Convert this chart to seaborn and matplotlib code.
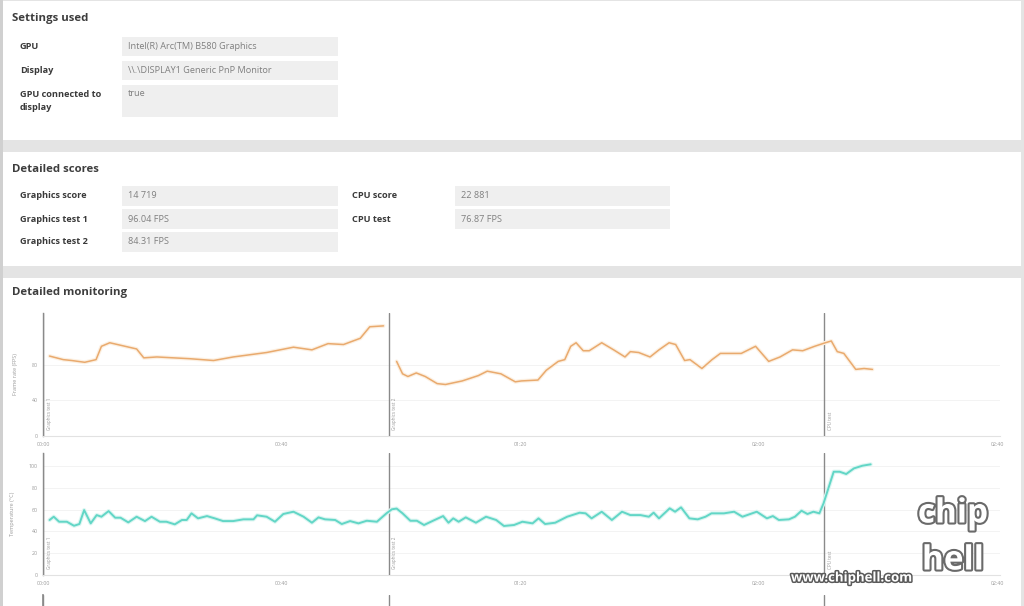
import numpy as np
import pandas as pd
import matplotlib
matplotlib.use("Agg")
import matplotlib.pyplot as plt
import matplotlib.patheffects as pe
from matplotlib.patches import Rectangle
import seaborn as sns

# ---------------- data ----------------
settings_labels = ["GPU", "Display", "GPU connected to\ndisplay"]
settings_values = ["Intel(R) Arc(TM) B580 Graphics", "\\\\.\\DISPLAY1 Generic PnP Monitor", "true"]

scores_left_labels = ["Graphics score", "Graphics test 1", "Graphics test 2"]
scores_left_values = ["14 719", "96.04 FPS", "84.31 FPS"]
scores_right_labels = ["CPU score", "CPU test"]
scores_right_values = ["22 881", "76.87 FPS"]

tick_seconds = [0, 40, 80, 120, 160]
tick_labels = ["00:00", "00:40", "01:20", "02:00", "02:40"]
marker_times = [0.0, 58.0, 131.0]
marker_labels = ["Graphics test 1", "Graphics test 2", "CPU test"]

fps_ticks = [0, 40, 80]
temp_ticks = [0, 20, 40, 60, 80, 100]

# frame rate, graphics test 1
fps_gt1_t = [1.1, 3.4, 4.8, 7.0, 8.9, 9.8, 11.2, 15.7, 16.9, 19.1, 24.7, 28.6, 31.9,
             37.5, 42.0, 45.1, 47.8, 50.4, 53.2, 54.8, 57.1]
fps_gt1 = [90, 86, 85, 83, 86, 101, 105, 98, 88, 89, 87, 85, 89,
           94, 100, 97, 104, 103, 110, 123, 124]
# frame rate, graphics test 2 followed by CPU test
fps_gt2_t = [59.3, 60.3, 61.2, 62.6, 64.1, 66.1, 67.5, 70.3, 73.0, 74.5, 76.8, 79.2, 80.2,
             83.0, 84.4, 86.4, 87.5, 88.5, 89.4, 90.6, 91.6, 93.7, 95.7, 97.6, 98.5, 99.9,
             101.8, 103.3, 105.0, 106.1, 107.6, 108.5, 110.5, 112.2, 113.6, 117.1, 119.5,
             121.7, 123.6, 125.7, 127.4, 129.4]
fps_gt2 = [84, 70, 67, 71, 67, 59, 58, 62, 68, 73, 70, 61, 62,
           63, 74, 84, 86, 101, 105, 96, 96, 105, 97, 89, 95, 94,
           89, 97, 105, 103, 85, 86, 76, 86, 93, 93, 101,
           84, 89, 97, 96, 101]
fps_cpu_t = [131.2, 132.2, 133.2, 134.3, 136.3, 137.7, 139.1]
fps_cpu = [105, 107, 95, 93, 75, 76, 75]

# temperature (continuous)
temp_t = [1.1, 1.8, 2.7, 4.0, 5.2, 6.1, 6.9, 8.0, 9.0, 9.8, 11.0, 12.1, 13.0, 14.3,
          15.7, 17.1, 18.2, 19.6, 20.7, 22.1, 23.3, 24.1, 24.9, 26.0, 27.5, 28.8, 30.2,
          31.9, 33.6, 35.3, 35.9, 37.5, 38.9, 40.3, 42.0, 43.7, 45.1, 46.2, 47.3, 49.0,
          50.1, 51.5, 52.9, 54.3, 56.0, 57.6, 58.5, 59.3, 60.3, 61.6, 62.7, 63.9, 65.4,
          67.1, 68.0, 68.8, 69.7, 70.9, 72.6, 74.3, 76.0, 77.3, 79.0, 80.4, 82.1, 83.1,
          84.2, 85.9, 87.9, 90.0, 91.0, 92.0, 93.7, 95.4, 97.1, 98.5, 100.2, 101.6, 102.4,
          103.3, 105.1, 106.0, 107.0, 108.4, 109.8, 111.1, 112.1, 114.2, 115.9, 117.3,
          119.7, 121.4, 122.4, 123.4, 125.1, 126.1, 127.2, 128.2, 129.2, 130.2, 130.9,
          132.6, 133.6, 134.7, 136.0, 137.4, 138.8]
temp_c = [50.5, 53.5, 48.9, 48.9, 45.2, 46.8, 59.6, 47.4, 55.0, 53.5, 58.7, 52.6, 52.6, 48.3,
          53.5, 49.5, 53.5, 48.9, 48.9, 46.5, 50.5, 50.5, 56.6, 52.0, 54.1, 52.0, 49.5,
          49.5, 51.1, 51.1, 54.8, 53.5, 48.9, 56.0, 58.1, 53.5, 48.0, 52.9, 51.1, 50.5,
          46.8, 49.5, 47.4, 49.8, 48.9, 56.6, 60.3, 61.0, 56.6, 49.8, 49.8, 45.9, 49.8,
          54.1, 48.0, 52.0, 48.9, 52.9, 48.0, 53.5, 50.5, 45.0, 45.9, 48.9, 47.4, 52.0,
          46.8, 48.0, 53.5, 57.2, 56.6, 52.0, 58.1, 50.5, 58.1, 55.0, 55.0, 53.5, 57.2,
          52.0, 61.2, 58.1, 62.1, 52.0, 51.1, 53.5, 56.6, 56.6, 58.1, 53.5,
          58.1, 52.0, 54.1, 50.5, 51.1, 53.5, 59.0, 56.0, 58.1, 56.6, 65.8,
          94.8, 94.8, 92.7, 97.9, 100.3, 101.6]

fps_df = pd.concat([
    pd.DataFrame({"t": fps_gt1_t, "v": fps_gt1, "seg": "a"}),
    pd.DataFrame({"t": fps_gt2_t + fps_cpu_t, "v": fps_gt2 + fps_cpu, "seg": "b"}),
], ignore_index=True)
temp_df = pd.DataFrame({"t": temp_t, "v": temp_c, "seg": "a"})

# ---------------- style ----------------
sns.set_theme(style="white")
plt.rcParams["font.family"] = ["Open Sans", "DejaVu Sans"]

W, H = 1024, 606
fig = plt.figure(figsize=(W / 100, H / 100), dpi=100, facecolor="#e4e4e4")

bg = fig.add_axes([0, 0, 1, 1], zorder=0)
bg.set_xlim(0, W)
bg.set_ylim(H, 0)
bg.axis("off")

# cards
for (y0, y1) in [(1, 140), (152, 266), (278, 606)]:
    bg.add_patch(Rectangle((3, y0), 1018, y1 - y0, facecolor="white", edgecolor="none"))
bg.add_patch(Rectangle((0, 0), 2.5, H, facecolor="#d0d0d0", edgecolor="none"))

title_kw = dict(fontsize=8.2, fontweight="bold", color="#3d3d3d", va="center", ha="left")
label_kw = dict(fontsize=6.6, fontweight="bold", color="#3a3a3a", va="center", ha="left")
value_kw = dict(fontsize=6.6, color="#7f7f7f", va="center", ha="left")
box_col = "#efefef"

bg.text(12, 18, "Settings used", **title_kw)
set_rows = [(37, 56), (61, 80), (85, 117)]
for lab, val, (y0, y1) in zip(settings_labels, settings_values, set_rows):
    bg.add_patch(Rectangle((122, y0), 216, y1 - y0, facecolor=box_col, edgecolor="none"))
    if "\n" in lab:
        bg.text(20, (y0 + y1) / 2, lab, linespacing=1.55, **label_kw)
        bg.text(128, y0 + 8, val, **value_kw)
    else:
        bg.text(20, (y0 + y1) / 2, lab, **label_kw)
        bg.text(128, (y0 + y1) / 2, val, **value_kw)

bg.text(12, 170, "Detailed scores", **title_kw)
score_rows = [(186, 206), (209, 229), (232, 252)]
for lab, val, (y0, y1) in zip(scores_left_labels, scores_left_values, score_rows):
    bg.add_patch(Rectangle((122, y0), 216, y1 - y0, facecolor=box_col, edgecolor="none"))
    bg.text(20, (y0 + y1) / 2, lab, **label_kw)
    bg.text(128, (y0 + y1) / 2, val, **value_kw)
for lab, val, (y0, y1) in zip(scores_right_labels, scores_right_values, score_rows):
    bg.add_patch(Rectangle((455, y0), 215, y1 - y0, facecolor=box_col, edgecolor="none"))
    bg.text(352, (y0 + y1) / 2, lab, **label_kw)
    bg.text(461, (y0 + y1) / 2, val, **value_kw)

bg.text(12, 292, "Detailed monitoring", **title_kw)

# ---------------- charts ----------------
x_left, x_right = 43, 1000
px_per_s = 5.963
xmax = (x_right - x_left) / px_per_s


def make_ax(top, bottom):
    return fig.add_axes([x_left / W, 1 - bottom / H, (x_right - x_left) / W, (bottom - top) / H],
                        zorder=2)


def style_ax(ax, yticks, ylim, ylabel, show_x=True):
    ax.set_facecolor("none")
    ax.set_xlim(0, xmax)
    ax.set_ylim(*ylim)
    ax.set_yticks(yticks)
    ax.set_yticklabels([str(v) for v in yticks])
    ax.set_xticks(tick_seconds)
    ax.set_xticklabels(tick_labels if show_x else [])
    for s in ["top", "right"]:
        ax.spines[s].set_visible(False)
    ax.spines["left"].set_color("#8a8a8a")
    ax.spines["left"].set_linewidth(1.0)
    ax.spines["bottom"].set_color("#e2e2e2")
    ax.spines["bottom"].set_linewidth(0.8)
    ax.tick_params(axis="both", labelsize=3.8, colors="#9a9a9a", length=2, width=0.5, pad=2)
    ax.tick_params(axis="x", color="#cccccc")
    ax.tick_params(axis="y", color="#cccccc")
    ax.grid(axis="y", color="#f1f1f1", linewidth=0.6)
    ax.set_ylabel(ylabel, fontsize=4, color="#9a9a9a", labelpad=10)
    ax.set_xlabel("")
    for t, lab in zip(marker_times, marker_labels):
        ax.axvline(t, color="#8a8a8a", lw=1.0, zorder=3)
        ax.text(t + 0.6, ylim[0] + (ylim[1] - ylim[0]) * 0.05, lab, rotation=90,
                fontsize=3.3, color="#9a9a9a", ha="left", va="bottom")


ax1 = make_ax(313, 436)
sns.lineplot(data=fps_df, x="t", y="v", units="seg", estimator=None, color="#e9aa6e",
             lw=1.1, ax=ax1, zorder=4,
             path_effects=[pe.Stroke(linewidth=2.8, foreground="#fcf0e2"), pe.Normal()])
style_ax(ax1, fps_ticks, (0, 138.5), "Frame rate (FPS)")

ax2 = make_ax(453, 575)
sns.lineplot(data=temp_df, x="t", y="v", units="seg", estimator=None, color="#62d6c6",
             lw=1.4, ax=ax2, zorder=4,
             path_effects=[pe.Stroke(linewidth=3.0, foreground="#dcf6f2"), pe.Normal()])
style_ax(ax2, temp_ticks, (0, 112), "Temperature (°C)")

# third chart, only its top is visible
ax3 = make_ax(595, 717)
ax3.set_facecolor("none")
ax3.set_xlim(0, xmax)
ax3.set_ylim(0, 1)
ax3.set_xticks([])
ax3.set_yticks([])
for s in ["top", "right", "bottom"]:
    ax3.spines[s].set_visible(False)
ax3.spines["left"].set_color("#8a8a8a")
for t in marker_times:
    ax3.axvline(t, color="#8a8a8a", lw=1.0)

# watermark
wm = fig.add_axes([0, 0, 1, 1], zorder=5)
wm.set_xlim(0, W)
wm.set_ylim(H, 0)
wm.axis("off")
wm.text(852, 578, "www.chiphell.com", fontsize=9.5, color="white", ha="center", va="center",
        fontweight="bold", path_effects=[pe.withStroke(linewidth=2.2, foreground="#5a5a5a")])
logo_fx = [pe.withStroke(linewidth=3, foreground="#6a6a6a")]
wm.text(953, 514, "chip", fontsize=24, color="white", ha="center", va="center",
        fontweight="bold", path_effects=logo_fx)
wm.text(953, 561, "hell", fontsize=24, color="white", ha="center", va="center",
        fontweight="bold", path_effects=logo_fx)

fig.savefig("out.png", dpi=100, facecolor=fig.get_facecolor())
